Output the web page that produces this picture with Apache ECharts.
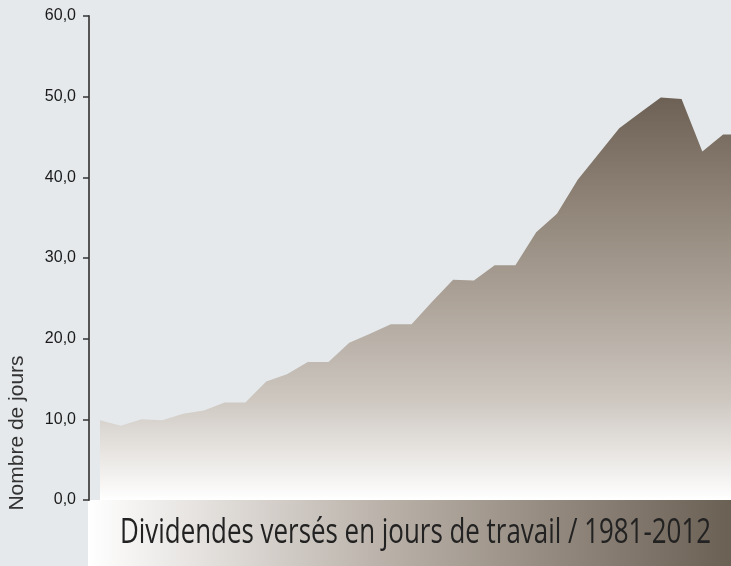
<!DOCTYPE html>
<html>
<head>
<meta charset="utf-8">
<script src="https://cdn.jsdelivr.net/npm/echarts/dist/echarts.min.js"></script>
<style>
html,body{margin:0;padding:0;background:#e5e9ec;}
#c{width:731px;height:566px;}
</style>
</head>
<body>
<div id="c"></div>
<script>
// ---- data ----
const years = [1981,1982,1983,1984,1985,1986,1987,1988,1989,1990,1991,1992,1993,1994,1995,1996,
               1997,1998,1999,2000,2001,2002,2003,2004,2005,2006,2007,2008,2009,2010,2011,2012];
const values = [9.9,9.2,10.0,9.9,10.7,11.1,12.1,12.1,14.7,15.6,17.1,17.1,19.5,20.6,21.8,21.8,
                24.6,27.3,27.2,29.1,29.1,33.2,35.5,39.7,42.9,46.1,48.0,49.9,49.7,43.2,45.3,45.3];
const yTicks = [0,10,20,30,40,50,60];
const yAxisName = 'Nombre de jours';
const titleText = 'Dividendes versés en jours de travail / 1981-2012';

// ---- chart ----
const chart = echarts.init(document.getElementById('c'), null, {renderer:'canvas'});

const mctx = document.createElement('canvas').getContext('2d');
const titleFont = '34px "Open Sans"';
mctx.font = titleFont;
const titleW = mctx.measureText(titleText).width;
const titleScale = 591 / titleW;

const seriesData = years.map((y, i) => [y, values[i]]);

chart.setOption({
  backgroundColor: '#e5e9ec',
  animation: false,
  grid: {left: 89, right: 0, top: 16, bottom: 66},
  xAxis: {
    type: 'value', min: 1980.47, max: 2011.38, show: false
  },
  yAxis: {
    type: 'value',
    min: yTicks[0], max: yTicks[yTicks.length - 1], interval: 10,
    axisLine: {show: true, lineStyle: {color: '#555', width: 2}},
    axisTick: {show: true, length: 6, lineStyle: {color: '#333', width: 1.5}},
    splitLine: {show: false},
    axisLabel: {
      fontSize: 16, color: '#1a1a1a', fontFamily: 'Liberation Sans', margin: 13,
      formatter: v => v.toFixed(1).replace('.', ',')
    }
  },
  series: [{
    type: 'line',
    data: seriesData,
    showSymbol: false,
    symbol: 'none',
    lineStyle: {width: 0},
    clip: true,
    areaStyle: {
      opacity: 1,
      color: new echarts.graphic.LinearGradient(0, 0, 0, 1, [
        {offset: 0, color: '#6c6154'},
        {offset: 0.25, color: '#8d8275'},
        {offset: 0.5, color: '#aca298'},
        {offset: 0.75, color: '#cdc7c0'},
        {offset: 1, color: '#ffffff'}
      ])
    }
  }],
  graphic: [
    {
      type: 'rect', left: 88, top: 500, z: 0,
      shape: {width: 643, height: 66},
      style: {
        fill: new echarts.graphic.LinearGradient(0, 0, 1, 0, [
          {offset: 0, color: '#ffffff'},
          {offset: 0.5, color: '#b4aba2'},
          {offset: 1, color: '#6b6054'}
        ])
      }
    },
    {
      type: 'text', x: 120, y: 533, scaleX: titleScale, z: 10,
      style: {text: titleText, font: titleFont, fill: '#222', textAlign: 'left', textVerticalAlign: 'middle'}
    },
    {
      type: 'text', x: 17, y: 433, rotation: Math.PI / 2, z: 10,
      style: {text: yAxisName, font: '21px "Liberation Sans"', fill: '#333', textAlign: 'center', textVerticalAlign: 'middle'}
    }
  ]
});
</script>
</body>
</html>
